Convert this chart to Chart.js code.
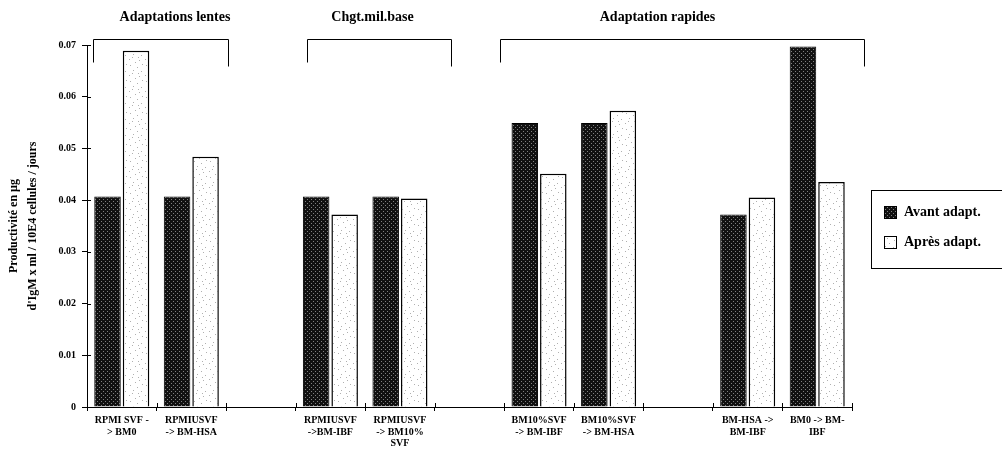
<!DOCTYPE html>
<html>
<head>
<meta charset="utf-8">
<script src="https://cdn.jsdelivr.net/npm/chart.js@4"></script>
<style>
  html, body { margin: 0; padding: 0; background: #fff; }
  #wrap { width: 1002px; height: 461px; }
</style>
</head>
<body>
<div id="wrap"><canvas id="myChart" width="1002" height="461"></canvas></div>
<script>
//////////////////////////////////////
//              Data                //
//////////////////////////////////////

var categories = [
    ["RPMI SVF -", "> BM0"],
    ["RPMIUSVF", "-> BM-HSA"],
    "",
    ["RPMIUSVF", "->BM-IBF"],
    ["RPMIUSVF", "-> BM10%", "SVF"],
    "",
    ["BM10%SVF", "-> BM-IBF"],
    ["BM10%SVF", "-> BM-HSA"],
    "",
    ["BM-HSA ->", "BM-IBF"],
    ["BM0 -> BM-", "IBF"]
];
var avant = [0.0407, 0.0407, null, 0.0407, 0.0407, null, 0.0549, 0.0549, null, 0.0372, 0.0697];
var apres = [0.0689, 0.0484, null, 0.0372, 0.0403, null, 0.0451, 0.0573, null, 0.0405, 0.0435];
var seriesNames = ["Avant adapt.", "Après adapt."];
var yTickValues = [0, 0.01, 0.02, 0.03, 0.04, 0.05, 0.06, 0.07];

var groupNames = ["Adaptations lentes", "Chgt.mil.base", "Adaptation rapides"];
var groupFirst = [0, 3, 6];
var groupLast = [1, 4, 10];

var serif = "'Liberation Serif', 'DejaVu Serif', serif";

//////////////////////////////////////
//            Patterns              //
//////////////////////////////////////

function darkPattern() {
    var c = document.createElement('canvas');
    c.width = 4; c.height = 4;
    var g = c.getContext('2d');
    g.fillStyle = '#111111';
    g.fillRect(0, 0, 4, 4);
    g.fillStyle = '#808080';
    g.fillRect(1, 1, 1, 1);
    g.fillRect(3, 3, 1, 1);
    return g.createPattern(c, 'repeat');
}

function lightPattern() {
    var c = document.createElement('canvas');
    c.width = 16; c.height = 16;
    var g = c.getContext('2d');
    g.fillStyle = '#ffffff';
    g.fillRect(0, 0, 16, 16);
    g.fillStyle = '#b0b0b0';
    var dots = [[2, 1], [9, 3], [13, 7], [5, 6], [1, 11], [11, 12], [7, 14], [14, 0], [4, 9], [10, 9]];
    dots.forEach(function(d) { g.fillRect(d[0], d[1], 1, 1); });
    return g.createPattern(c, 'repeat');
}

//////////////////////////////////////
//             Plugin               //
//////////////////////////////////////

var decorPlugin = {
    id: 'decor',
    afterDraw: function(chart, args, opts) {
        var ctx = chart.ctx;
        var x = chart.scales.x;
        var y = chart.scales.y;
        var half = (x.getPixelForValue(1) - x.getPixelForValue(0)) / 2;

        ctx.save();
        ctx.strokeStyle = '#000';
        ctx.lineWidth = 1;

        // inner halves of tick marks (ticks cross the axes)
        yTickValues.forEach(function(v) {
            var py = Math.round(y.getPixelForValue(v)) + 0.5;
            ctx.beginPath();
            ctx.moveTo(y.right, py);
            ctx.lineTo(y.right + 4, py);
            ctx.stroke();
        });
        for (var i = 0; i <= categories.length; i++) {
            var px = Math.round(x.getPixelForValue(i) - half) + 0.5;
            ctx.beginPath();
            ctx.moveTo(px, x.top);
            ctx.lineTo(px, x.top - 4);
            ctx.stroke();
        }

        // group brackets and labels
        ctx.font = "bold 14px " + serif;
        ctx.fillStyle = '#000';
        ctx.textAlign = 'center';
        ctx.textBaseline = 'middle';
        groupNames.forEach(function(name, k) {
            var x1 = Math.round(x.getPixelForValue(groupFirst[k]) - half + opts.leftShift[k]) + 0.5;
            var x2 = Math.round(x.getPixelForValue(groupLast[k]) + half + opts.rightShift[k]) + 0.5;
            var top = 39.5;
            ctx.beginPath();
            ctx.moveTo(x1, top + 23);
            ctx.lineTo(x1, top);
            ctx.lineTo(x2, top);
            ctx.lineTo(x2, top + 27);
            ctx.stroke();
            ctx.fillText(name, (x1 + x2) / 2 + opts.labelShift[k], 17);
        });

        // legend box
        var bx = 871.5, by = 190.5, bw = 131, bh = 78;
        ctx.strokeRect(bx, by, bw, bh);
        ctx.textAlign = 'left';
        chart.data.datasets.forEach(function(ds, k) {
            var sy = 206 + k * 30;
            ctx.fillStyle = ds.backgroundColor;
            ctx.fillRect(884, sy, 12, 12);
            ctx.strokeRect(884.5, sy + 0.5, 12, 12);
            ctx.fillStyle = '#000';
            ctx.fillText(ds.label, 904, sy + 6);
        });
        ctx.restore();
    }
};

//////////////////////////////////////
//             Chart                //
//////////////////////////////////////

var chart = null;

function initChart() {
    var ctx = document.getElementById('myChart').getContext('2d');
    chart = new Chart(ctx, {
        type: 'bar',
        data: {
            labels: categories,
            datasets: [
                {
                    label: seriesNames[0],
                    data: avant,
                    backgroundColor: darkPattern(),
                    borderColor: '#000',
                    borderWidth: 1
                },
                {
                    label: seriesNames[1],
                    data: apres,
                    backgroundColor: lightPattern(),
                    borderColor: '#000',
                    borderWidth: 1.5
                }
            ]
        },
        options: {
            responsive: false,
            animation: false,
            layout: { padding: { top: 45, right: 150, left: 0, bottom: 0 } },
            categoryPercentage: 0.82,
            barPercentage: 0.93,
            plugins: {
                legend: { display: false },
                tooltip: { enabled: false },
                decor: {
                    leftShift: [6, 11, -4],
                    rightShift: [2, 16, 12],
                    labelShift: [14, -7, -25]
                }
            },
            scales: {
                x: {
                    afterFit: function(s) { s.height = 54; },
                    border: { color: '#000', width: 1 },
                    grid: { drawOnChartArea: false, drawTicks: true, tickLength: 4, color: '#000', offset: true },
                    ticks: {
                        color: '#000',
                        maxRotation: 0,
                        autoSkip: false,
                        padding: 4,
                        font: { family: serif, size: 10, weight: 'bold', lineHeight: 1.15 }
                    }
                },
                y: {
                    min: 0,
                    max: 0.07,
                    afterFit: function(s) { s.width = 87; },
                    afterBuildTicks: function(s) {
                        s.ticks = yTickValues.map(function(v) { return { value: v }; });
                    },
                    border: { color: '#000', width: 1 },
                    grid: { drawOnChartArea: false, drawTicks: true, tickLength: 5, color: '#000' },
                    ticks: {
                        color: '#000',
                        padding: 6,
                        font: { family: serif, size: 10, weight: 'bold' },
                        callback: function(v) { return v === 0 ? '0' : v.toFixed(2); }
                    },
                    title: {
                        display: true,
                        text: ["Productivité en µg", "d'IgM x ml / 10E4 cellules / jours"],
                        color: '#000',
                        padding: { top: 4, bottom: 2 },
                        font: { family: serif, size: 12, weight: 'bold', lineHeight: 1.6 }
                    }
                }
            }
        },
        plugins: [decorPlugin]
    });
}
window.onload = initChart;
</script>
</body>
</html>
